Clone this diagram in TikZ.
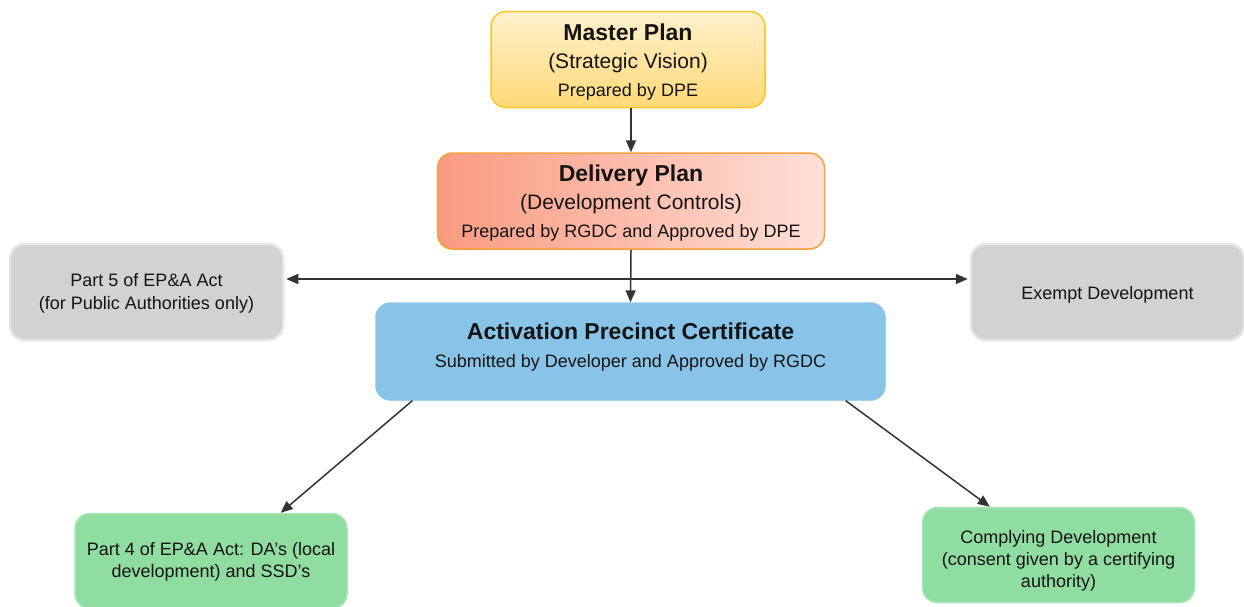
\documentclass[tikz,border=0pt]{standalone}
\usepackage{fontspec}
\setmainfont{Liberation Sans}
\usetikzlibrary{arrows.meta,positioning,calc}
\definecolor{textdark}{HTML}{141414}
\definecolor{linegrey}{HTML}{333333}
\definecolor{masterline}{HTML}{FFC426}
\definecolor{mastertop}{HTML}{FFF1CE}
\definecolor{masterbot}{HTML}{FFD976}
\definecolor{deliveryline}{HTML}{F8A03C}
\definecolor{deliveryleft}{HTML}{F99A80}
\definecolor{deliveryright}{HTML}{FFE0D8}
\definecolor{greyfill}{HTML}{D3D1D2}
\definecolor{greyline}{HTML}{E6E5E6}
\definecolor{bluefill}{HTML}{87C4E8}
\definecolor{greenfill}{HTML}{8FDDA0}
\definecolor{greenline}{HTML}{A6E6B4}
\newcommand{\bigtitle}{\fontsize{23}{28}\selectfont\bfseries}
\newcommand{\subline}{\fontsize{21}{28}\selectfont}
\newcommand{\lift}[1]{\rule{0pt}{#1}}
\tikzset{box/.style={draw, rectangle, rounded corners=15pt, inner sep=0pt, align=center, text=textdark, font=\fontsize{18}{28}\selectfont}}
\tikzstyle{planbox}=[box, line width=1.5pt, minimum height=96pt]
\tikzstyle{greybox}=[box, fill=greyfill, draw=greyline, line width=2.5pt, minimum width=273pt, minimum height=96pt, font=\fontsize{18}{23}\selectfont]
\tikzstyle{greenbox}=[box, fill=greenfill, draw=greenline, line width=1.5pt, minimum width=272pt, minimum height=95pt, font=\fontsize{18}{22}\selectfont]

\begin{document}
\begin{tikzpicture}[x=1pt, y=-1pt, >={Triangle[length=12pt,width=10pt]}, arrow/.style={->, draw=linegrey, fill=linegrey, line width=1.5pt}]
\useasboundingbox (0,0) rectangle (1244,606);
\node[planbox, draw=masterline, top color=mastertop, bottom color=masterbot, minimum width=274pt] (Master) at (628,59.5)
  {{\bigtitle\lift{21pt}Master Plan}\\{\subline (Strategic Vision)}\\Prepared by DPE};
\node[planbox, draw=deliveryline, left color=deliveryleft, right color=deliveryright, minimum width=387pt] (Delivery) at (631,201)
  {{\bigtitle\lift{20pt}Delivery Plan}\\{\subline (Development Controls)}\\Prepared by RGDC and Approved by DPE};
\node[greybox] (Part5) at (146.5,292) {\lift{16pt}Part 5 of EP\&A Act\\(for Public Authorities only)};
\node[greybox] (Exempt) at (1107.5,292) {\lift{19pt}Exempt Development};
\node[box, draw=bluefill, fill=bluefill, minimum width=510pt, minimum height=98pt] (Activation) at (630.5,351.5)
  {{\bigtitle Activation Precinct Certificate}\\Submitted by Developer and Approved by RGDC\rule[-12pt]{0pt}{12pt}};
\node[greenbox] (Part4) at (211,561) {\lift{15pt}Part 4 of EP\&A Act: DA’s (local\\development) and SSD’s};
\node[greenbox] (Complying) at (1058.5,555) {\lift{25pt}Complying Development\\(consent given by a certifying\\authority)};

\coordinate (split) at (631,279);
\draw[arrow] (Master.south -| Delivery.north) -- (Delivery.north);
\draw[arrow] (Delivery.south) -- (Activation.north);
\draw[arrow, <->, shorten <=2pt, shorten >=2pt] (Part5.east |- split) -- (Exempt.west |- split);
\draw[arrow] ([xshift=37pt]Activation.south west) -- ([xshift=-67pt]Part4.north east);
\draw[arrow] ([xshift=-40pt]Activation.south east) -- ([xshift=68pt]Complying.north west);
\end{tikzpicture}
\end{document}
